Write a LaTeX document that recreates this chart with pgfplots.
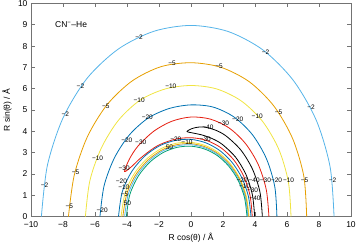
\documentclass[border=0pt]{standalone}
\usepackage{fontspec}
\setmainfont{Liberation Sans}
\usepackage{pgfplots}
\pgfplotsset{compat=1.18}
\usepgfplotslibrary{polar}
\definecolor{cLB}{HTML}{56B4E9}
\definecolor{cOR}{HTML}{E69F00}
\definecolor{cYE}{HTML}{F0E442}
\definecolor{cBL}{HTML}{0072B2}
\definecolor{cRE}{HTML}{E51E10}
\definecolor{cGR}{HTML}{009E73}
\begin{document}
\begin{tikzpicture}
\begin{axis}[
  at={(0,0)}, anchor=south west,
  scale only axis, width=320pt, height=213pt,
  xmin=-10, xmax=10, ymin=0, ymax=10,
  xtick={-10,-8,-6,-4,-2,0,2,4,6,8,10},
  xticklabels={−10,−8,−6,−4,−2,0,2,4,6,8,10},
  ytick={0,1,2,3,4,5,6,7,8,9,10},
  yticklabels={0,1,2,3,4,5,6,7,8,9,10},
  tick align=inside, major tick length=4pt,
  axis line style={black!55, line width=0.6pt},
  every tick/.style={black!55, line width=0.6pt},
  tick label style={font=\fontsize{8.5}{10}\selectfont},
  xticklabel style={yshift=-1.5pt},
  label style={font=\fontsize{8.5}{10}\selectfont},
  xlabel={R cos(θ) / Å},
  ylabel={R sin(θ) / Å},
  xlabel style={at={(axis description cs:0.5,-0.101)}, anchor=center},
  ylabel style={at={(axis description cs:-0.075,0.5)}, anchor=center},
  every axis plot/.append style={line width=0.8pt, smooth, no markers},
  clip=true,
]
% -2 outer
\addplot[cLB, data cs=polar] coordinates {(0,8.94)(15,9.00)(30,9.04)(45,9.04)(60,9.02)(75,8.99)(90,8.97)(105,9.00)(120,9.08)(135,9.18)(150,9.24)(165,9.29)(180,9.35)};
% -5 outer
\addplot[cOR, data cs=polar] coordinates {(0,7.23)(15,7.30)(30,7.33)(45,7.33)(60,7.30)(75,7.25)(90,7.22)(105,7.28)(120,7.35)(135,7.42)(150,7.48)(165,7.55)(180,7.66)};
% -10 outer
\addplot[cYE, data cs=polar] coordinates {(0,6.25)(15,6.30)(30,6.33)(45,6.32)(60,6.27)(75,6.20)(90,6.15)(105,6.20)(120,6.32)(135,6.40)(150,6.46)(165,6.54)(180,6.60)};
% -20 outer
\addplot[cBL, data cs=polar] coordinates {(0,5.37)(15,5.42)(30,5.44)(45,5.43)(60,5.39)(75,5.32)(90,5.24)(105,5.25)(120,5.34)(135,5.43)(150,5.52)(165,5.62)(180,5.69)};
% -30 closed
\addplot[cRE, data cs=polar] coordinates {(0,4.87)(15,4.87)(30,4.86)(45,4.83)(60,4.79)(75,4.73)(90,4.67)(105,4.63)(120,4.63)(135,4.68)(145,4.70)(153,4.66)(148,4.40)(140,4.20)(130,4.02)(120,3.90)(105,3.76)(90,3.70)(75,3.70)(60,3.73)(45,3.77)(30,3.80)(15,3.82)(0,3.83)};
% -40 closed
\addplot[black, data cs=polar] coordinates {(0,4.46)(15,4.46)(30,4.44)(45,4.41)(60,4.37)(70,4.33)(80,4.27)(88,4.15)(93.5,4.00)(88,3.92)(80,3.89)(70,3.89)(60,3.91)(45,3.94)(30,3.96)(15,3.97)(0,3.98)};
% inner -20
\addplot[cBL, data cs=polar] coordinates {(0,3.75)(15,3.71)(30,3.66)(45,3.61)(60,3.58)(75,3.58)(90,3.62)(105,3.70)(120,3.85)(135,4.04)(150,4.26)(165,4.45)(180,4.53)};
% inner -10
\addplot[cYE, data cs=polar] coordinates {(0,3.63)(15,3.59)(30,3.54)(45,3.49)(60,3.46)(75,3.45)(90,3.48)(105,3.56)(120,3.69)(135,3.86)(150,4.07)(165,4.26)(180,4.37)};
% inner -5
\addplot[cOR, data cs=polar] coordinates {(0,3.59)(15,3.55)(30,3.50)(45,3.44)(60,3.40)(75,3.39)(90,3.42)(105,3.49)(120,3.61)(135,3.77)(150,3.97)(165,4.15)(180,4.26)};
% inner -2
\addplot[cLB, data cs=polar] coordinates {(0,3.55)(15,3.51)(30,3.45)(45,3.40)(60,3.36)(75,3.34)(90,3.37)(105,3.43)(120,3.55)(135,3.70)(150,3.89)(165,4.06)(180,4.15)};
% 50
\addplot[cGR, data cs=polar] coordinates {(0,3.50)(15,3.46)(30,3.40)(45,3.34)(60,3.30)(75,3.28)(90,3.30)(105,3.36)(120,3.47)(135,3.62)(150,3.80)(165,3.96)(180,4.04)};

\node at (axis cs:-8.5,9.0) [anchor=west, inner sep=0pt, font=\fontsize{8.5}{10}\selectfont] {CN\textsuperscript{−}–He};
\begin{scope}[every node/.style={font=\fontsize{6.5}{7}\selectfont, inner sep=0pt}]
% -2
\node at (axis cs:-3.25,8.42) {−2};
\node at (axis cs:4.66,7.72) {−2};
\node at (axis cs:7.5,5.11) {−2};
\node at (axis cs:-6.91,6.11) {−2};
\node at (axis cs:-7.86,4.8) {−2};
\node at (axis cs:-9.15,1.48) {−2};
\node at (axis cs:8.85,1.71) {−2};
% -5
\node at (axis cs:7.1,1.71) {−5};
\node at (axis cs:5.47,4.91) {−5};
\node at (axis cs:1.76,7.05) {−5};
\node at (axis cs:-1.18,7.18) {−5};
\node at (axis cs:-5.32,5.18) {−5};
\node at (axis cs:-7.22,2.07) {−5};
\node at (axis cs:-7.6,0.46) {−5};
% -10
\node at (axis cs:6.1,1.71) {−10};
\node at (axis cs:4.14,4.71) {−10};
\node at (axis cs:-1.26,6.11) {−10};
\node at (axis cs:-3.24,5.46) {−10};
\node at (axis cs:-5.84,2.75) {−10};
% -20
\node at (axis cs:5.35,1.71) {−20};
\node at (axis cs:2.92,4.55) {−20};
\node at (axis cs:-2.73,4.67) {−20};
\node at (axis cs:-4.01,3.58) {−20};
\node at (axis cs:-5.55,0.3) {−20};
% -30
\node at (axis cs:2.03,4.37) {−30};
\node at (axis cs:-3.14,3.5) {−30};
\node at (axis cs:-4.18,2.26) {−30};
\node at (axis cs:0.89,3.62) {−30};
\node at (axis cs:4.65,1.71) {−30};
\node at (axis cs:3.85,1.22) {−30};
% -40
\node at (axis cs:1.06,4.21) {−40};
\node at (axis cs:3.95,1.71) {−40};
\node at (axis cs:4.0,0.85) {−40};
% clusters
\node at (axis cs:3.2,1.71) {−20};
\node at (axis cs:3.35,1.42) {−10};
\node at (axis cs:-0.95,3.62) {−20};
\node at (axis cs:-0.25,3.5) {−10};
\node at (axis cs:-4.35,1.65) {−20};
\node at (axis cs:-4.2,1.35) {−10};
\node at (axis cs:-4.15,1.05) {−5};
% 50
\node at (axis cs:-3.98,0.62) {50};
\node at (axis cs:-1.35,3.25) {50};
\end{scope}
\end{axis}
\pgfresetboundingbox
\path (-31pt,-26.5pt) rectangle (326pt,216.5pt);
\end{tikzpicture}
\end{document}
